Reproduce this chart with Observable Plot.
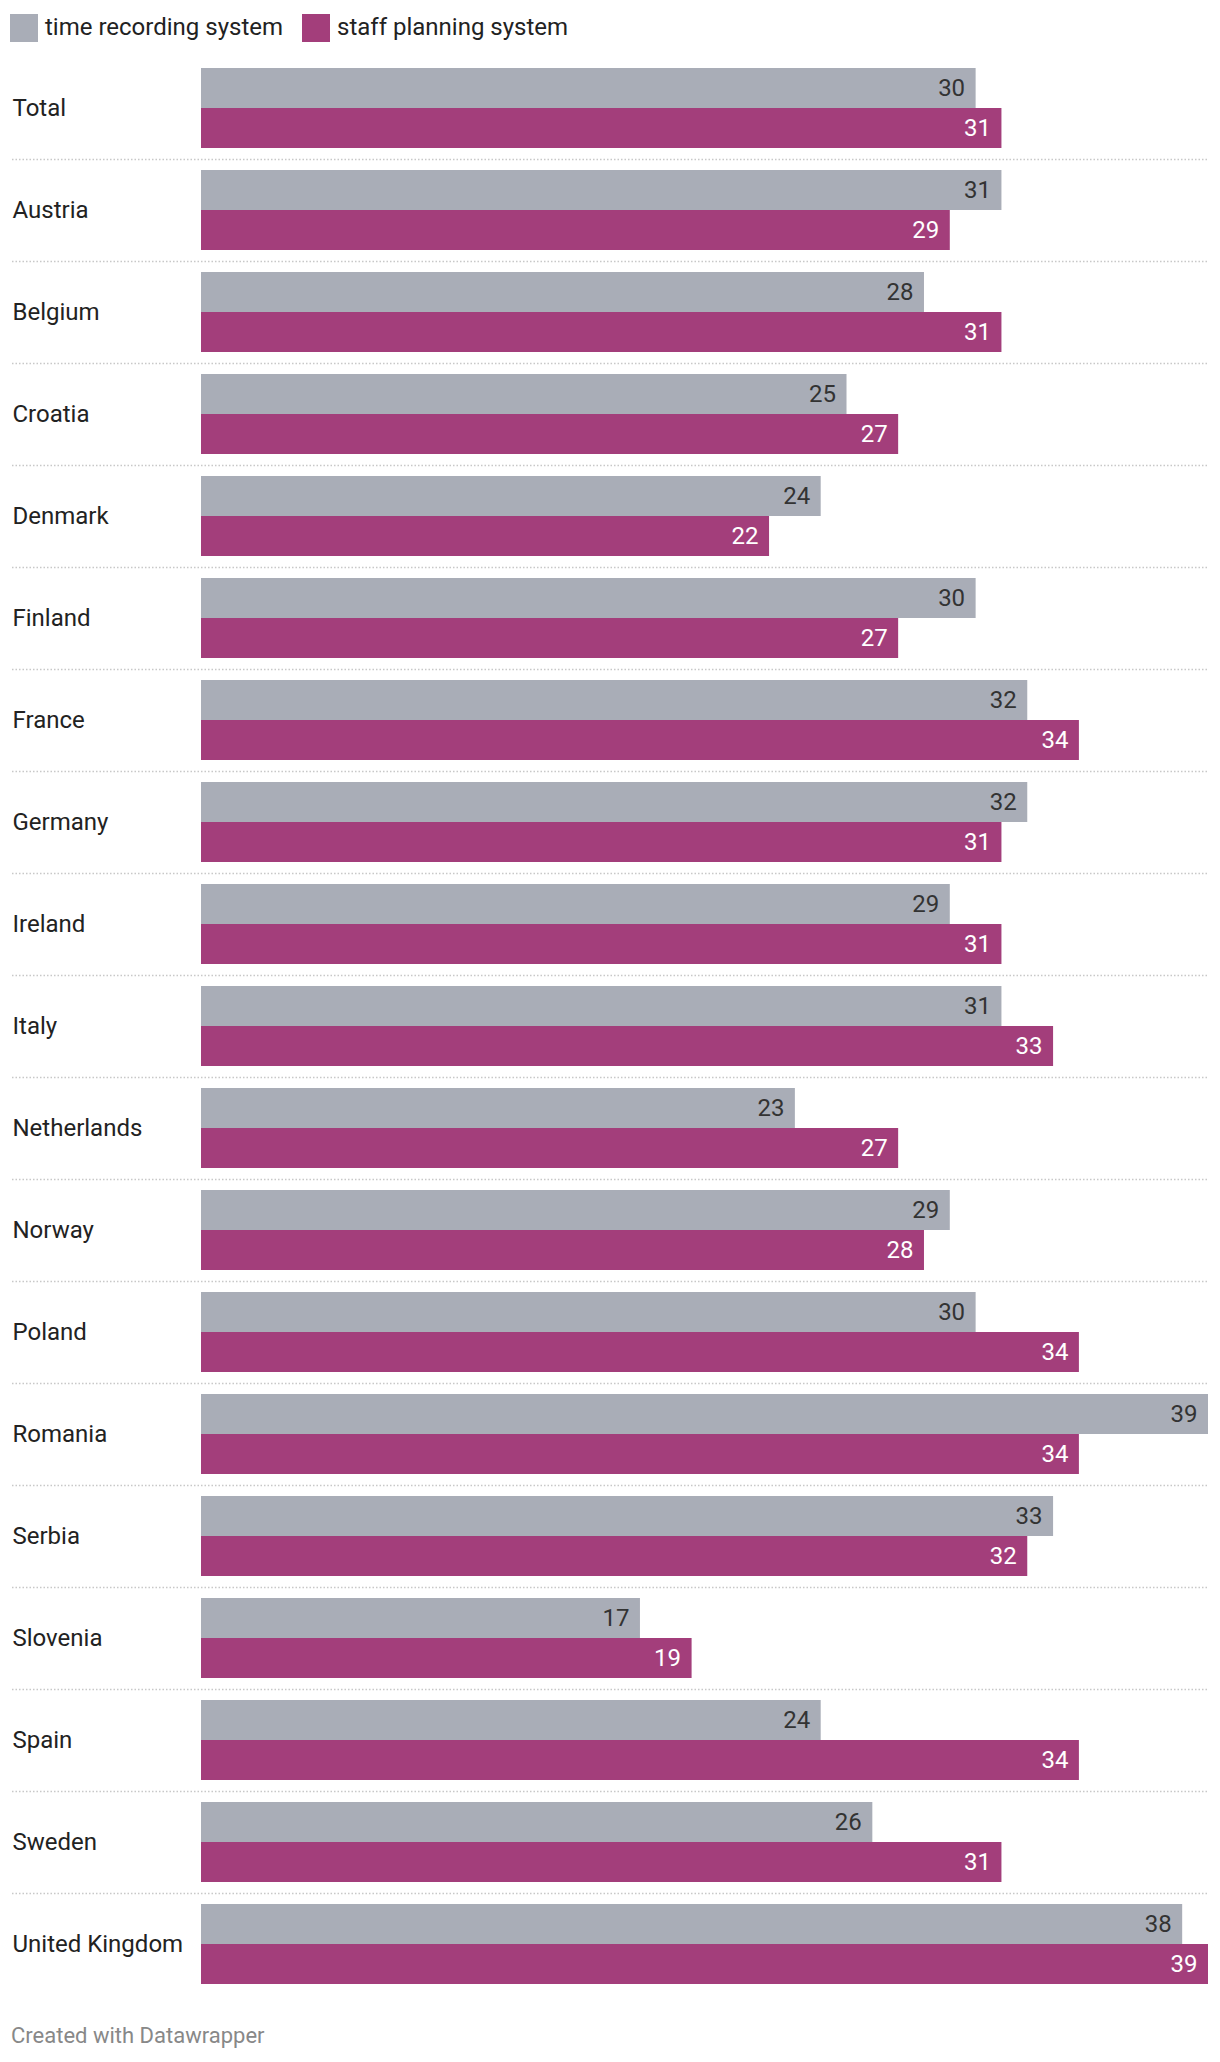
<!DOCTYPE html>
<html>
<head>
<meta charset="utf-8">
<script src="https://cdn.jsdelivr.net/npm/d3@7"></script>
<script src="https://cdn.jsdelivr.net/npm/@observablehq/plot@0.6"></script>
<style>
  html, body { margin: 0; padding: 0; background: #fff; }
  body { font-family: Roboto, "Noto Sans", sans-serif; width: 1220px; min-height: 2062px; }
  #legend { height: 58px; box-sizing: border-box; padding: 13px 0 0 10px; display: flex; align-items: flex-start; }
  .item { display: flex; align-items: center; margin-right: 19px; height: 28px; }
  .sw { width: 28px; height: 28px; margin-right: 7px; margin-top: 1px; }
  .lt { font-size: 24px; color: #222; line-height: 28px; }
  #chart { height: 1936px; }
  #chart svg { display: block; }
  #footer { display: block; margin: 31px 0 0 11px; font-family: Roboto, sans-serif; font-size: 22px; line-height: 22px; color: #888888; }
</style>
</head>
<body>
<div id="legend"></div>
<div id="chart"></div>
<div id="footer">Created with Datawrapper</div>
<script>
const countries = ["Total","Austria","Belgium","Croatia","Denmark","Finland","France","Germany","Ireland","Italy","Netherlands","Norway","Poland","Romania","Serbia","Slovenia","Spain","Sweden","United Kingdom"];
const timeRecording = [30,31,28,25,24,30,32,32,29,31,23,29,30,39,33,17,24,26,38];
const staffPlanning = [31,29,31,27,22,27,34,31,31,33,27,28,34,34,32,19,34,31,39];
const seriesNames = ["time recording system","staff planning system"];
const seriesColors = ["#a9adb7","#a33e7b"];
const valueLabelColors = ["#333333","#ffffff"];

const data = countries.flatMap((c, i) => [
  {country: c, series: seriesNames[0], value: timeRecording[i]},
  {country: c, series: seriesNames[1], value: staffPlanning[i]}
]);

// legend
const legend = document.getElementById("legend");
seriesNames.forEach((s, i) => {
  const it = document.createElement("div"); it.className = "item";
  const sw = document.createElement("div"); sw.className = "sw"; sw.style.background = seriesColors[i];
  const t = document.createElement("span"); t.className = "lt"; t.textContent = s;
  it.appendChild(sw); it.appendChild(t); legend.appendChild(it);
});

const chart = Plot.plot({
  width: 1220,
  height: 1936,
  marginTop: 10,
  marginBottom: 10,
  marginLeft: 201,
  marginRight: 12,
  style: {fontFamily: "Roboto, sans-serif", fontSize: "24px", color: "#222", background: "transparent", overflow: "visible"},
  x: {domain: [0, 39], axis: null},
  fy: {domain: countries, paddingInner: 22 / 102, paddingOuter: 0, axis: null},
  y: {domain: seriesNames, padding: 0, axis: null},
  color: {domain: seriesNames, range: seriesColors},
  marks: [
    Plot.ruleY(countries.slice(0, -1), {fy: d => d, y: () => seriesNames[1], dy: 31, insetLeft: -189, stroke: "#c8c8c8", strokeWidth: 1.5, strokeDasharray: "1.5,2"}),
    Plot.barX(data, {fy: "country", y: "series", x: "value", fill: "series"}),
    Plot.text(data.filter(d => d.series === seriesNames[0]), {fy: "country", y: "series", x: "value", text: d => String(d.value), textAnchor: "end", dx: -11, fill: valueLabelColors[0], fontSize: 24}),
    Plot.text(data.filter(d => d.series === seriesNames[1]), {fy: "country", y: "series", x: "value", text: d => String(d.value), textAnchor: "end", dx: -11, fill: valueLabelColors[1], fontSize: 24}),
    Plot.axisFy({anchor: "left", tickSize: 0, tickPadding: 0, dx: -189, textAnchor: "start", fontSize: 24, fill: "#222", label: null})
  ]
});
document.getElementById("chart").appendChild(chart);
</script>
</body>
</html>
